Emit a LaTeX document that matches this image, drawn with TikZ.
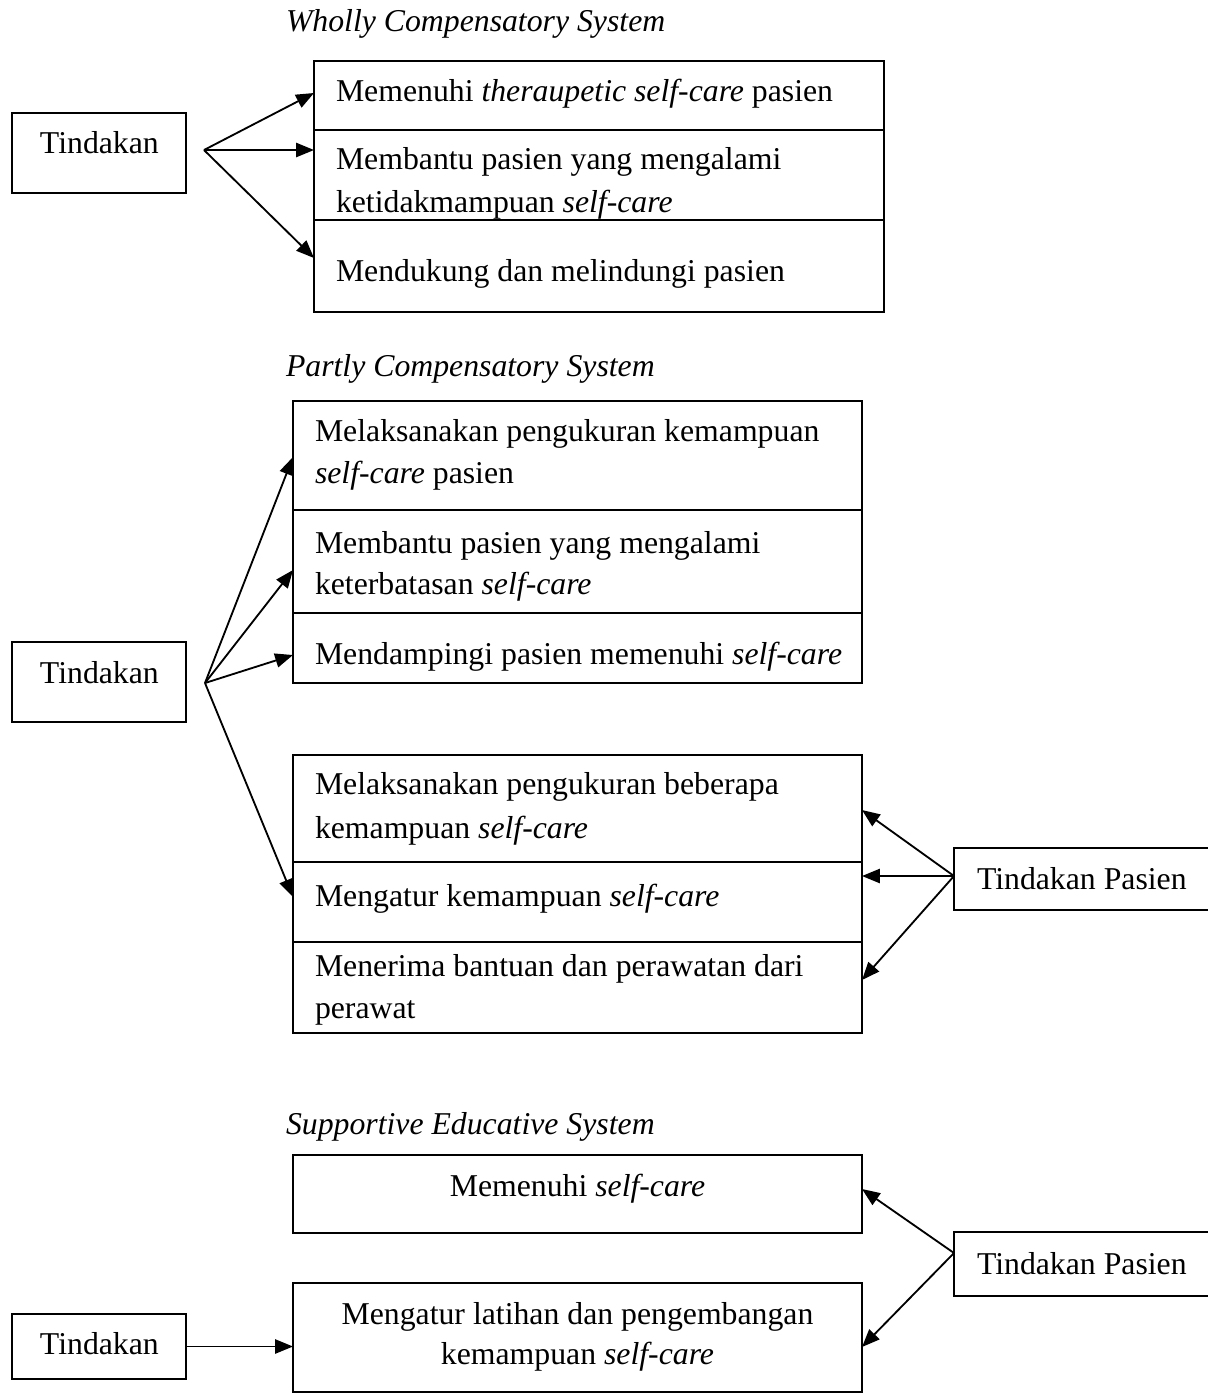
\documentclass[tikz,border=0pt]{standalone}
\usepackage{fontspec}
\setmainfont{Liberation Serif}
\usetikzlibrary{arrows.meta}
\tikzset{
  cell/.style 2 args={draw, line width=0.75pt, inner sep=0pt, outer sep=0pt, anchor=north west,
    minimum width=#1*0.381pt, minimum height=#2*0.381pt},
  txt/.style={anchor=base west, inner sep=0pt, outer sep=0pt, font=\fontsize{12.1pt}{14pt}\selectfont},
  ctxt/.style={anchor=base, inner sep=0pt, outer sep=0pt, font=\fontsize{12.1pt}{14pt}\selectfont},
  ttl/.style={txt, font=\fontsize{12.1pt}{14pt}\selectfont\itshape},
  arr/.style={-{Triangle[length=6.8pt,width=5.4pt]}, line width=0.7pt},
}
\begin{document}
\begin{tikzpicture}[x=0.381pt,y=-0.381pt]
\useasboundingbox (0,0) rectangle (1208,1394);
\clip (0,0) rectangle (1208,1394);

% ---------- Wholly Compensatory System ----------
\node[ttl] (title1) at (286,31) {Wholly Compensatory System};
\node[cell={570}{69}] (w1) at (314,61) {};
\node[cell={570}{90}] (w2) at (314,130) {};
\node[cell={570}{92}] (w3) at (314,220) {};
\node[txt] (w1t) at (336,101) {Memenuhi \textit{theraupetic self-care} pasien};
\node[txt] (w2t) at (336,169) {Membantu pasien yang mengalami};
\node[txt] (w2u) at (336,212) {ketidakmampuan \textit{self-care}};
\node[txt] (w3t) at (336,281) {Mendukung dan melindungi pasien};

\node[cell={174}{80}] (t1) at (12,113) {};
\node[txt] (t1t) at (40,153) {Tindakan};
\coordinate (o1) at (204,150);
\coordinate (w1p) at (314,93);
\coordinate (w2p) at (314,150);
\coordinate (w3p) at (314,258);
\draw[arr] (o1) -- (w1p);
\draw[arr] (o1) -- (w2p);
\draw[arr] (o1) -- (w3p);

% ---------- Partly Compensatory System ----------
\node[ttl] (title2) at (286,376) {Partly Compensatory System};
\node[cell={569}{109}] (p1) at (293,401) {};
\node[cell={569}{103}] (p2) at (293,510) {};
\node[cell={569}{70}] (p3) at (293,613) {};
\node[txt] (p1t) at (315,441) {Melaksanakan pengukuran kemampuan};
\node[txt] (p1u) at (315,483) {\textit{self-care} pasien};
\node[txt] (p2t) at (315,553) {Membantu pasien yang mengalami};
\node[txt] (p2u) at (315,594) {keterbatasan \textit{self-care}};
\node[txt] (p3t) at (315,664) {Mendampingi pasien memenuhi \textit{self-care}};

\node[cell={569}{107}] (q1) at (293,755) {};
\node[cell={569}{80}] (q2) at (293,862) {};
\node[cell={569}{91}] (q3) at (293,942) {};
\node[txt] (q1t) at (315,794) {Melaksanakan pengukuran beberapa};
\node[txt] (q1u) at (315,838) {kemampuan \textit{self-care}};
\node[txt] (q2t) at (315,906) {Mengatur kemampuan \textit{self-care}};
\node[txt] (q3t) at (315,976) {Menerima bantuan dan perawatan dari};
\node[txt] (q3u) at (315,1018) {perawat};

\node[cell={174}{80}] (t2) at (12,642) {};
\node[txt] (t2t) at (40,683) {Tindakan};
\coordinate (o2) at (205,683);
\coordinate (p1p) at (293,457);
\coordinate (p2p) at (293,570);
\coordinate (p3p) at (293,655);
\coordinate (q2p) at (293,897);
\draw[arr] (o2) -- (p1p);
\draw[arr] (o2) -- (p2p);
\draw[arr] (o2) -- (p3p);
\draw[arr] (o2) -- (q2p);

\node[cell={290}{62}] (tp2) at (954,848) {};
\node[txt] (tp2t) at (977,889) {Tindakan Pasien};
\coordinate (o3) at (954,876);
\coordinate (q1p) at (862,810);
\coordinate (q2r) at (862,876);
\coordinate (q3p) at (862,980);
\draw[arr] (o3) -- (q1p);
\draw[arr] (o3) -- (q2r);
\draw[arr] (o3) -- (q3p);

% ---------- Supportive Educative System ----------
\node[ttl] (title3) at (286,1134) {Supportive Educative System};
\node[cell={569}{78}] (s1) at (293,1155) {};
\node[cell={569}{109}] (s2) at (293,1283) {};
\node[ctxt] (s1t) at (577.5,1196) {Memenuhi \textit{self-care}};
\node[ctxt] (s2t) at (577.5,1324) {Mengatur latihan dan pengembangan};
\node[ctxt] (s2u) at (577.5,1364) {kemampuan \textit{self-care}};

\node[cell={174}{65}] (t3) at (12,1314) {};
\node[txt] (t3t) at (40,1354) {Tindakan};
\draw[arr] (t3.east) -- (t3.east -| s2.west);

\node[cell={290}{64}] (tp3) at (954,1232) {};
\node[txt] (tp3t) at (977,1274) {Tindakan Pasien};
\coordinate (o4) at (954,1253);
\coordinate (s1p) at (862,1189);
\coordinate (s2p) at (862,1347);
\draw[arr] (o4) -- (s1p);
\draw[arr] (o4) -- (s2p);
\end{tikzpicture}
\end{document}
